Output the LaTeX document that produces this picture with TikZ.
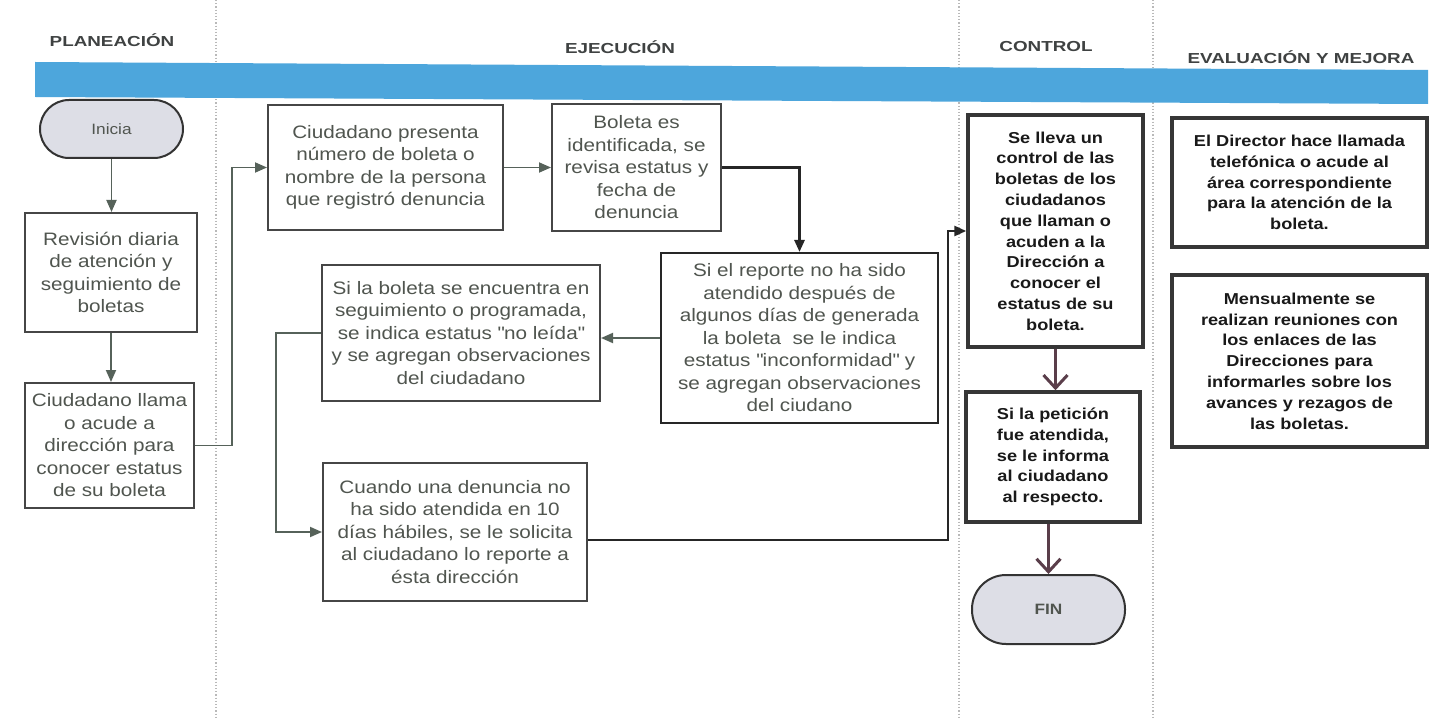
\documentclass[tikz,border=0pt]{standalone}
\usepackage{fontspec}
\setmainfont{Liberation Sans}[FakeStretch=1.15]
\newfontfamily\hdrfont{Liberation Sans}[FakeStretch=1.3]
\usetikzlibrary{arrows.meta,calc}
\definecolor{txtgray}{HTML}{50554F}
\definecolor{boxgray}{HTML}{464646}
\definecolor{darkbox}{HTML}{363636}
\definecolor{conngray}{HTML}{56625A}
\definecolor{maroonline}{HTML}{5A3E4A}
\definecolor{bandblue}{HTML}{4DA6DC}
\definecolor{pillfill}{HTML}{DDDEE6}
\definecolor{hdrtext}{HTML}{3F4242}
\begin{document}
\begin{tikzpicture}[x=1pt,y=-1pt,
  graybox/.style={draw=boxgray, line width=2pt, fill=white, align=center, text=txtgray,
    font=\fontsize{18}{22.5}\selectfont, inner sep=0pt},
  boldbox/.style={draw=darkbox, line width=3.5pt, fill=white, align=center, text=black!90,
    font=\fontsize{15.8}{20.8}\selectfont\bfseries, inner sep=0pt},
  pillbox/.style={draw=black!80, line width=2pt, fill=pillfill, rounded corners=29pt,
    text=txtgray, inner sep=0pt},
  lanediv/.style={draw=gray!55, dotted, line width=1.2pt},
  hdr/.style={font=\hdrfont\bfseries\fontsize{14.5}{17}\selectfont, text=hdrtext},
  conn/.style={draw=conngray, line width=1.8pt, -{Triangle[length=12pt,width=10pt]}},
  darkconn/.style={draw=black!85, line width=2.6pt, -{Triangle[length=12pt,width=10pt]}},
  vconn/.style={draw=maroonline, line width=3pt, -{Straight Barb[length=13pt,width=24pt,line width=3pt]}}
]
\useasboundingbox (0,0) rectangle (1434,719);
\fill[white] (0,0) rectangle (1434,719);

% lane dividers
\draw[lanediv] (216,0) -- (216,719);
\draw[lanediv] (959,0) -- (959,719);
\draw[lanediv] (1153,0) -- (1153,719);

% blue band
\fill[bandblue] (35,62) -- (1428,70) -- (1428,104) -- (35,97) -- cycle;

% headers
\node[hdr] (hplan) at (112,40) {PLANEACIÓN};
\node[hdr] (hejec) at (620,47) {EJECUCIÓN};
\node[hdr] (hcont) at (1046,47) {CONTROL};
\node[hdr] (heval) at (1301,57) {EVALUACIÓN Y MEJORA};

% planeacion
\node[pillbox, minimum width=143pt, minimum height=58pt, font=\fontsize{15}{18}\selectfont] (inicia) at (111.5,129) {Inicia};
\node[graybox, minimum width=172pt, minimum height=119pt] (revision) at (111,272.5)
  {Revisión diaria\\de atención y\\seguimiento de\\boletas};
\node[graybox, minimum width=169pt, minimum height=125pt] (llama) at (109.5,445.5)
  {Ciudadano llama\\o acude a\\dirección para\\conocer estatus\\de su boleta};

% ejecucion
\node[graybox, minimum width=235pt, minimum height=125pt] (presenta) at (385.5,167.5)
  {Ciudadano presenta\\número de boleta o\\nombre de la persona\\que registró denuncia};
\node[graybox, minimum width=169pt, minimum height=127pt] (boleta) at (636.5,167.5)
  {Boleta es\\identificada, se\\revisa estatus y\\fecha de\\denuncia};
\node[graybox, draw=black!85, minimum width=277pt, minimum height=170pt] (reporte) at (799.5,338)
  {Si el reporte no ha sido\\atendido después de\\algunos días de generada\\la boleta~\ se le indica\\estatus \textquotedbl inconformidad\textquotedbl\ y\\se agregan observaciones\\del ciudano};
\node[graybox, minimum width=278pt, minimum height=135pt] (sila) at (461,333)
  {Si la boleta se encuentra en\\seguimiento o programada,\\se indica estatus \textquotedbl no leída\textquotedbl\\y se agregan observaciones\\del ciudadano};
\node[graybox, minimum width=264pt, minimum height=138pt] (cuando) at (455,532)
  {Cuando una denuncia no\\ha sido atendida en 10\\días hábiles, se le solicita\\al ciudadano lo reporte a\\ésta dirección};

% control
\node[boldbox, minimum width=175pt, minimum height=232pt] (lleva) at (1055.5,231)
  {Se lleva un\\control de las\\boletas de los\\ciudadanos\\que llaman o\\acuden a la\\Dirección a\\conocer el\\estatus de su\\boleta.};
\node[boldbox, minimum width=174pt, minimum height=130pt] (peticion) at (1053,457)
  {Si la petición\\fue atendida,\\se le informa\\al ciudadano\\al respecto.};
\node[pillbox, minimum width=153pt, minimum height=69pt, rounded corners=34pt,
  font=\fontsize{15}{18}\selectfont\bfseries] (fin) at (1048.5,609.5) {FIN};

% evaluacion
\node[boldbox, minimum width=255pt, minimum height=129pt] (director) at (1299.5,182.5)
  {El Director hace llamada\\telefónica o acude al\\área correspondiente\\para la atención de la\\boleta.};
\node[boldbox, minimum width=255pt, minimum height=172pt] (mensual) at (1299.5,361)
  {Mensualmente se\\realizan reuniones con\\los enlaces de las\\Direcciones para\\informarles sobre los\\avances y rezagos de\\las boletas.};

% connectors
\coordinate (bendA) at (232,445.5);
\coordinate (bendB) at (276,333);
\coordinate (bendC) at (948,540);
\draw[conn] (inicia.south) -- (inicia.south |- revision.north);
\draw[conn] (revision.south) -- (revision.south |- llama.north);
\draw[conn] (llama.east) -- (bendA) |- (presenta.west);
\draw[conn] (presenta.east) -- (boleta.west);
\draw[darkconn] (boleta.east) -| (reporte.north);
\draw[conn] (reporte.west) -- (reporte.west -| sila.east);
\draw[conn] (sila.west) -- (bendB) |- (cuando.west);
\draw[darkconn] (cuando.east |- bendC) -- (bendC) |- (lleva.west);
\draw[vconn] (lleva.south) -- (lleva.south |- peticion.north);
\draw[vconn] (peticion.south -| fin.north) -- (fin.north);
\end{tikzpicture}
\end{document}
